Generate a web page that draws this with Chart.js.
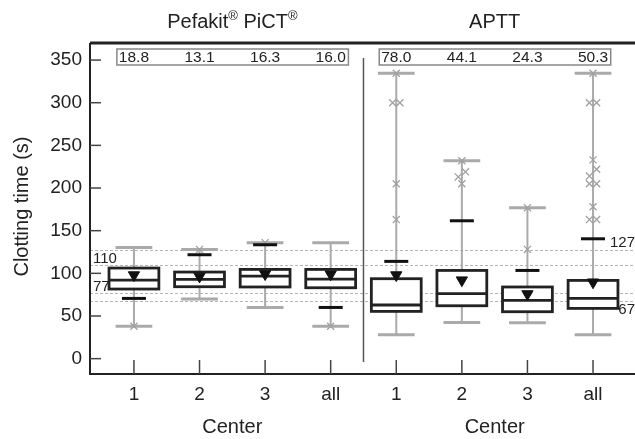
<!DOCTYPE html>
<html>
<head>
<meta charset="utf-8">
<script src="https://cdn.jsdelivr.net/npm/chart.js@4.4.1/dist/chart.umd.min.js"></script>
<style>
    body { margin: 0; background: #fff; }
    #chart { display: block; }
</style>
</head>
<body>
<canvas id="chart" width="635" height="439"></canvas>
<script>
// 数据
const categories = ['1', '2', '3', 'all', '1', '2', '3', 'all'];
const panelTitles = ['Pefakit® PiCT®', 'APTT'];
const axisTitleX = 'Center';
const axisTitleY = 'Clotting time (s)';
const cvLabels = ['18.8', '13.1', '16.3', '16.0', '78.0', '44.1', '24.3', '50.3'];
const yTicks = [0, 50, 100, 150, 200, 250, 300, 350];

const boxMin = [38, 70, 60, 38, 28, 42.5, 42, 28];
const boxQ1 = [81.6, 84.3, 84, 83.1, 55.4, 62, 55, 58.9];
const boxMedian = [92.1, 92.9, 96.8, 93.3, 62.9, 76.1, 68.3, 70.6];
const boxQ3 = [106.2, 101.5, 104.6, 104.6, 93.7, 103.4, 84, 91.7];
const boxMax = [130.3, 128, 135.8, 135.8, 334.5, 232, 177, 334.5];
const means = [98, 96.4, 99.2, 99, 98, 92, 75.8, 89.6];
const limitMarks = [70.6, 121.8, 133.5, 60, 114, 161.6, 103.4, 140.5];
const outliers = [
    [38],
    [128],
    [136],
    [38],
    [334.5, 300, 300, 205, 163],
    [232, 219, 213, 205],
    [177, 128],
    [334.5, 300, 300, 233, 222, 214, 205, 205, 178, 163, 163]
];
const refLines = [127, 110, 77, 67];

const FONT = "'Liberation Sans', Arial, Helvetica, sans-serif";

// 离群点: 相近的两个点左右错开
function outlierPoints() {
    const pts = [];
    outliers.forEach((vals, i) => {
        let k = 0;
        while (k < vals.length) {
            if (k + 1 < vals.length && Math.abs(vals[k] - vals[k + 1]) < 9) {
                pts.push({x: i + 0.055, y: vals[k]});
                pts.push({x: i - 0.055, y: vals[k + 1]});
                k += 2;
            } else {
                pts.push({x: i, y: vals[k]});
                k += 1;
            }
        }
    });
    return pts;
}

// 箱线图 + 参考线
const boxPlugin = {
    id: 'boxes',
    beforeDatasetsDraw(chart) {
        const ctx = chart.ctx;
        const xs = chart.scales.x, ys = chart.scales.y;
        const area = chart.chartArea;
        ctx.save();

        // 参考虚线
        ctx.strokeStyle = '#b5b5b5';
        ctx.lineWidth = 1;
        ctx.setLineDash([3, 2]);
        refLines.forEach(v => {
            const y = Math.round(ys.getPixelForValue(v)) + 0.5;
            ctx.beginPath();
            ctx.moveTo(area.left, y);
            ctx.lineTo(area.right, y);
            ctx.stroke();
        });
        ctx.setLineDash([]);

        const unit = xs.getPixelForValue(1) - xs.getPixelForValue(0);
        categories.forEach((c, i) => {
            const x = xs.getPixelForValue(i);
            const yMin = ys.getPixelForValue(boxMin[i]);
            const yMax = ys.getPixelForValue(boxMax[i]);
            const y1 = ys.getPixelForValue(boxQ1[i]);
            const y3 = ys.getPixelForValue(boxQ3[i]);
            const ym = ys.getPixelForValue(boxMedian[i]);

            // 须线
            ctx.strokeStyle = '#aaaaaa';
            ctx.lineWidth = 2;
            ctx.beginPath();
            ctx.moveTo(x, yMin);
            ctx.lineTo(x, yMax);
            ctx.stroke();
            ctx.lineWidth = 3;
            const cw = unit * 0.28;
            ctx.beginPath();
            ctx.moveTo(x - cw, yMin); ctx.lineTo(x + cw, yMin);
            ctx.moveTo(x - cw, yMax); ctx.lineTo(x + cw, yMax);
            ctx.stroke();

            // 箱体
            const bw = unit * 0.38;
            ctx.fillStyle = '#ffffff';
            ctx.fillRect(x - bw, y3, bw * 2, y1 - y3);
            ctx.strokeStyle = '#222222';
            ctx.lineWidth = 2.8;
            ctx.strokeRect(x - bw, y3, bw * 2, y1 - y3);
            ctx.beginPath();
            ctx.moveTo(x - bw, ym);
            ctx.lineTo(x + bw, ym);
            ctx.stroke();
        });
        ctx.restore();
    },
    afterDraw(chart) {
        const ctx = chart.ctx;
        const xs = chart.scales.x, ys = chart.scales.y;
        const area = chart.chartArea;
        ctx.save();

        // 坐标轴框线
        ctx.strokeStyle = '#222222';
        ctx.lineWidth = 2;
        ctx.beginPath();
        ctx.moveTo(area.left, area.top);
        ctx.lineTo(area.left, area.bottom);
        ctx.lineTo(area.right, area.bottom);
        ctx.stroke();
        ctx.lineWidth = 3;
        ctx.beginPath();
        ctx.moveTo(area.left, area.top);
        ctx.lineTo(area.right, area.top);
        ctx.stroke();

        // 刻度线 (朝内)
        ctx.strokeStyle = '#444444';
        ctx.lineWidth = 1.5;
        yTicks.forEach(v => {
            const y = ys.getPixelForValue(v);
            ctx.beginPath();
            ctx.moveTo(area.left, y);
            ctx.lineTo(area.left + 11, y);
            ctx.stroke();
        });
        categories.forEach((c, i) => {
            const x = xs.getPixelForValue(i);
            ctx.beginPath();
            ctx.moveTo(x, area.bottom);
            ctx.lineTo(x, area.bottom - 14);
            ctx.stroke();
        });

        // 分隔线
        const xSep = xs.getPixelForValue(3.5);
        ctx.strokeStyle = '#555555';
        ctx.lineWidth = 1.5;
        ctx.beginPath();
        ctx.moveTo(xSep, area.top + 15);
        ctx.lineTo(xSep, area.bottom - 12);
        ctx.stroke();

        // CV 数值框
        ctx.font = '15.5px ' + FONT;
        ctx.fillStyle = '#222222';
        ctx.textAlign = 'center';
        ctx.textBaseline = 'middle';
        const yBoxTop = area.top + 6, yBoxBot = area.top + 22;
        [0, 4].forEach(start => {
            const xl = xs.getPixelForValue(start - 0.26);
            const xr = xs.getPixelForValue(start + 3.27);
            ctx.strokeStyle = '#888888';
            ctx.lineWidth = 1.5;
            ctx.strokeRect(xl, yBoxTop, xr - xl, yBoxBot - yBoxTop);
            for (let i = start; i < start + 4; i++) {
                ctx.fillText(cvLabels[i], xs.getPixelForValue(i), (yBoxTop + yBoxBot) / 2 + 1);
            }
        });

        // 参考线标签
        ctx.font = '15px ' + FONT;
        ctx.textBaseline = 'alphabetic';
        refLines.forEach((v, k) => {
            const y = ys.getPixelForValue(v);
            if (k === 0) {
                ctx.textAlign = 'right';
                ctx.fillText(String(v), area.right, y - 3);
            } else if (k === 3) {
                ctx.textAlign = 'right';
                ctx.fillText(String(v), area.right, y + 13);
            } else {
                ctx.textAlign = 'left';
                ctx.fillText(String(v), area.left + 3, y - 2);
            }
        });

        // 面板标题 (带上标 ®)
        panelTitles.forEach((t, p) => {
            const cx = xs.getPixelForValue(p * 4 + 1.5);
            const parts = t.split('®');
            const big = '20px ' + FONT, sup = '13px ' + FONT;
            let w = 0;
            parts.forEach((s, j) => {
                ctx.font = big; w += ctx.measureText(s).width;
                if (j < parts.length - 1) { ctx.font = sup; w += ctx.measureText('®').width; }
            });
            let x = cx - w / 2;
            ctx.textAlign = 'left';
            parts.forEach((s, j) => {
                ctx.font = big;
                ctx.fillText(s, x, 28);
                x += ctx.measureText(s).width;
                if (j < parts.length - 1) {
                    ctx.font = sup;
                    ctx.fillText('®', x, 20);
                    x += ctx.measureText('®').width;
                }
            });

            // x 轴标题
            ctx.font = '20px ' + FONT;
            ctx.textAlign = 'center';
            ctx.fillText(axisTitleX, cx, 433);
        });

        // y 轴标题
        ctx.translate(22, (area.top + area.bottom) / 2 - 2);
        ctx.rotate(-Math.PI / 2);
        ctx.font = '20px ' + FONT;
        ctx.textAlign = 'center';
        ctx.textBaseline = 'middle';
        ctx.fillText(axisTitleY, 0, 0);
        ctx.restore();
    }
};

const chart = new Chart(document.getElementById('chart'), {
    type: 'scatter',
    data: {
        datasets: [
            {
                // 均值三角
                data: means.map((v, i) => ({x: i, y: v})),
                pointStyle: 'triangle',
                rotation: 180,
                radius: 6.5,
                backgroundColor: '#111111',
                borderColor: '#111111',
                borderWidth: 1
            },
            {
                // 黑色短横线
                data: limitMarks.map((v, i) => ({x: i, y: v})),
                pointStyle: 'line',
                radius: 12,
                borderColor: '#111111',
                borderWidth: 3
            },
            {
                // 离群点
                data: outlierPoints(),
                pointStyle: 'crossRot',
                radius: 5,
                borderColor: '#a0a0a0',
                borderWidth: 1.3
            }
        ]
    },
    options: {
        responsive: false,
        animation: false,
        devicePixelRatio: 1,
        layout: { autoPadding: false, padding: { top: 43, left: 0, right: 0, bottom: 0 } },
        plugins: {
            legend: { display: false },
            tooltip: { enabled: false }
        },
        scales: {
            x: {
                type: 'linear',
                min: -0.67,
                max: 7.64,
                grid: { display: false, drawTicks: false },
                border: { display: false },
                afterBuildTicks: scale => {
                    scale.ticks = categories.map((c, i) => ({value: i}));
                },
                afterFit: scale => {
                    scale.height = 65;
                    scale.paddingLeft = 0;
                    scale.paddingRight = 0;
                },
                ticks: {
                    autoSkip: false,
                    maxRotation: 0,
                    padding: 9,
                    color: '#222222',
                    font: { family: FONT, size: 19 },
                    callback: v => categories[v]
                }
            },
            y: {
                min: -18,
                max: 370,
                grid: { display: false, drawTicks: false },
                border: { display: false },
                afterBuildTicks: scale => {
                    scale.ticks = yTicks.map(v => ({value: v}));
                },
                afterFit: scale => {
                    scale.width = 90;
                    scale.paddingTop = 0;
                    scale.paddingBottom = 0;
                },
                ticks: {
                    padding: 8,
                    color: '#222222',
                    font: { family: FONT, size: 19 }
                }
            }
        }
    },
    plugins: [boxPlugin]
});
</script>
</body>
</html>
